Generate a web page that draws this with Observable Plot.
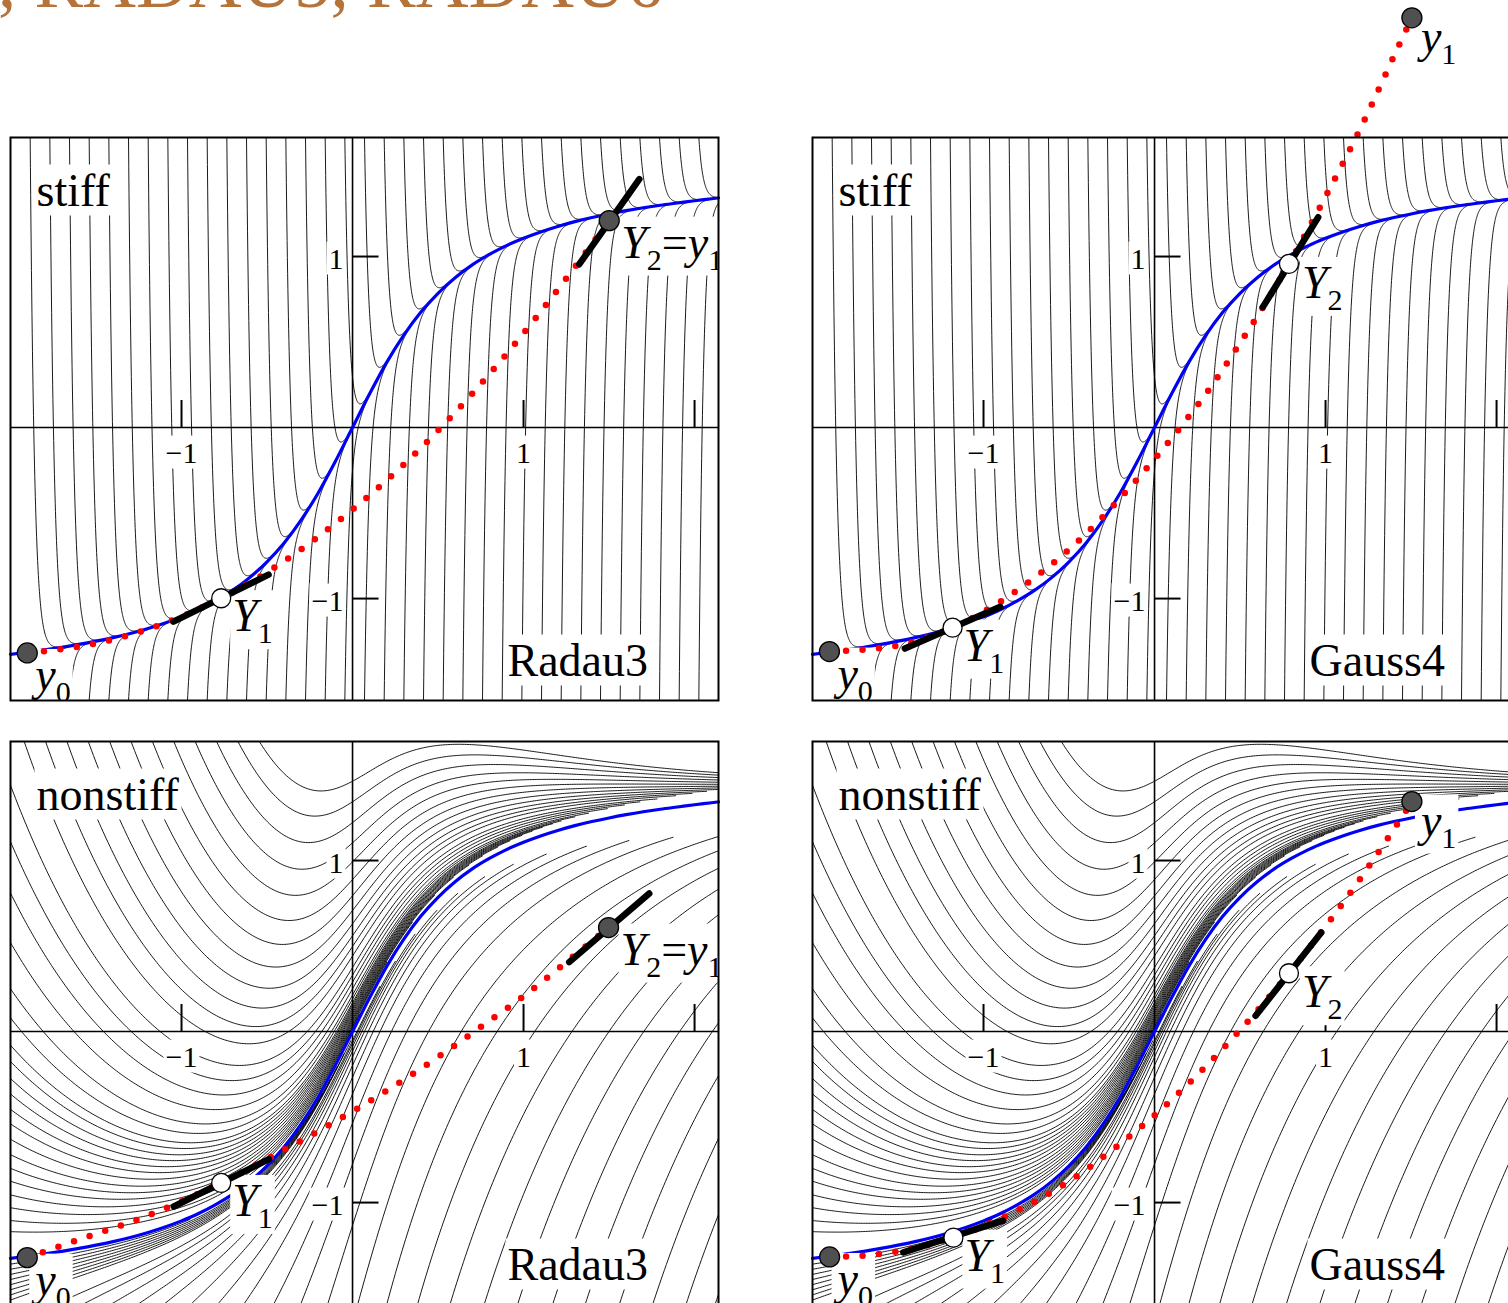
<!DOCTYPE html>
<html>
<head>
<meta charset="utf-8">
<script src="https://cdn.jsdelivr.net/npm/d3@7"></script>
<script src="https://cdn.jsdelivr.net/npm/@observablehq/plot@0.6"></script>
<style>
  html, body { margin: 0; padding: 0; background: #fff; overflow: hidden; }
  #page { position: relative; width: 1508px; height: 1303px; overflow: hidden; background: #fff; }
  #title { position: absolute; left: -2px; top: -54px; font-family: "Liberation Serif", serif; font-size: 73px;
           color: #b5733a; white-space: nowrap; line-height: 1; }
</style>
</head>
<body>
<div id="page"><div id="title">, RADAU5, RADAU6</div></div>
<script>
// ---------------- data ----------------
const xDomain = [-2, 2.14];
const yDomain = [-1.596, 1.696];
const xTickValues = [-1, 1, 2];
const xTickLabelValues = [-1, 1];
const xTickLabels = ["−1", "1"];
const yTickValues = [-1, 1];
const yTickLabels = ["−1", "1"];

// stiffness constants of the two problems (estimated from the field lines)
const lambdaStiff = 40;
const lambdaNonstiff = 1;

// exact smooth solution (blue)
const blueX = [-2.0,-1.9,-1.8,-1.7,-1.6,-1.5,-1.4,-1.3,-1.2,-1.1,-1.0,-0.9,-0.8,-0.7,-0.6,-0.5,-0.4,-0.3,-0.2,-0.1,0,
               0.1,0.2,0.3,0.4,0.5,0.6,0.7,0.8,0.9,1.0,1.1,1.2,1.3,1.4,1.5,1.6,1.7,1.8,1.9,2.0,2.1,2.14];
const blueY = [-1.326,-1.313,-1.300,-1.285,-1.268,-1.249,-1.228,-1.204,-1.176,-1.144,-1.107,-1.064,-1.012,-0.951,-0.876,-0.785,-0.675,-0.540,-0.381,-0.197,0,
               0.197,0.381,0.540,0.675,0.785,0.876,0.951,1.012,1.064,1.107,1.144,1.176,1.204,1.228,1.249,1.268,1.285,1.300,1.313,1.326,1.338,1.343];

// seeds of the drawn solution curves (where they enter the frame)
const stiffSeedX = [-1.885,-1.77,-1.655,-1.54,-1.425,-1.31,-1.195,-1.08,-0.965,-0.85,-0.735,-0.62,-0.505,-0.39,-0.275,-0.16,-0.045,
                    0.07,0.185,0.30,0.415,0.53,0.645,0.76,0.875,0.99,1.105,1.22,1.335,1.45,1.565,1.68,1.795,1.91,2.025];
const nonstiffTopSeedX = [-1.92,-1.795,-1.67,-1.545,-1.42,-1.295,-1.17,-1.045,-0.92,-0.795,-0.67,-0.545];
const nonstiffLeftSeedY = [1.44,1.11,0.81,0.52,0.25,0.08,-0.08,-0.175,-0.275,-0.365,-0.455,-0.54,-0.63,-0.72,-0.80,-0.875,-0.955,-1.03,-1.105,-1.17,
                           -1.36,-1.39,-1.42,-1.45,-1.48,-1.51,-1.54,-1.57];
const nonstiffBottomSeedX = [-1.74,-1.58,-1.415,-1.257,-1.105,-0.947,-0.79,-0.637,-0.462,-0.304,-0.146,
                             0.03,0.2,0.38,0.57,0.77,0.965,1.17,1.36,1.56,1.755,1.95,2.12];

// Radau3, stiff
const radauStiffRedX = [-1.90,-1.50,-1.14,-0.768,-0.44,-0.05,0.30,0.515,0.912,1.275,1.501];
const radauStiffRedY = [-1.318,-1.262,-1.160,-0.998,-0.808,-0.520,-0.216,-0.002,0.444,0.905,1.210];
const radauStiffNodeX = [-1.902,-0.768,1.501];
const radauStiffNodeY = [-1.318,-0.998,1.210];
const radauStiffSegX1 = [-1.047,1.326], radauStiffSegY1 = [-1.135,0.955];
const radauStiffSegX2 = [-0.491,1.677], radauStiffSegY2 = [-0.860,1.452];

// Gauss4, stiff
const gaussStiffRedX = [-1.90,-1.50,-1.181,-0.80,-0.40,-0.10,0.158,0.327,0.491,0.596,0.786,0.982,1.204,1.45,1.505];
const gaussStiffRedY = [-1.310,-1.274,-1.170,-0.950,-0.620,-0.300,0.010,0.234,0.480,0.643,0.957,1.316,1.749,2.280,2.396];
const gaussStiffNodeX = [-1.901,-1.181,0.786,1.505];
const gaussStiffNodeY = [-1.310,-1.170,0.957,2.396];
const gaussStiffSegX1 = [-1.460,0.633], gaussStiffSegY1 = [-1.292,0.704];
const gaussStiffSegX2 = [-0.902,0.957], gaussStiffSegY2 = [-1.048,1.230];

// Radau3, nonstiff
const radauNonRedX = [-1.902,-1.532,-1.257,-0.768,-0.462,-0.205,0.047,0.292,0.538,0.778,1.012,1.24,1.497];
const radauNonRedY = [-1.322,-1.193,-1.099,-0.885,-0.725,-0.585,-0.439,-0.287,-0.123,0.047,0.216,0.398,0.608];
const radauNonNodeX = [-1.902,-0.768,1.497];
const radauNonNodeY = [-1.322,-0.885,0.608];
const radauNonSegX1 = [-1.045,1.267], radauNonSegY1 = [-1.023,0.406];
const radauNonSegX2 = [-0.489,1.735], radauNonSegY2 = [-0.746,0.807];

// Gauss4, nonstiff
const gaussNonRedX = [-1.90,-1.70,-1.509,-1.176,-0.865,-0.52,-0.21,0.018,0.298,0.503,0.786,1.0,1.224,1.444,1.505];
const gaussNonRedY = [-1.318,-1.31,-1.287,-1.205,-1.076,-0.889,-0.663,-0.474,-0.205,0.012,0.341,0.614,0.924,1.251,1.345];
const gaussNonNodeX = [-1.900,-1.176,0.786,1.505];
const gaussNonNodeY = [-1.318,-1.205,0.341,1.345];
const gaussNonSegX1 = [-1.469,0.591], gaussNonSegY1 = [-1.291,0.092];
const gaussNonSegX2 = [-0.886,0.975], gaussNonSegY2 = [-1.105,0.579];

const radauNodeLabels = ["*y*_0", "*Y*_1", "*Y*_2=*y*_1"];
const radauNodeDark = [true, false, true];
const gaussNodeLabels = ["*y*_0", "*Y*_1", "*Y*_2", "*y*_1"];
const gaussNodeDark = [true, false, false, true];

// ---------------- drawing ----------------
const SVGNS = "http://www.w3.org/2000/svg";
const SERIF = "Liberation Serif, Times New Roman, serif";
const M = 150;
const page = document.getElementById("page");
const labelOffset = {"*y*_0": [8, 37], "*Y*_1": [11, 33], "*Y*_2=*y*_1": [12, 37], "*Y*_2": [13, 34], "*y*_1": [9, 34]};

// direction field of the Prothero-Robinson type problem y' = -lambda (y - g(x)) + g'(x)
const g = x => Math.atan(2 * x);
function fieldLines(kind) {
  const pts = [];
  let id = 0;
  const add = (s, ys, lambda, step, gap) => {
    const c = ys - g(s);
    for (let k = 0; ; k++) {
      let x = s + k * step, last = false;
      if (x >= xDomain[1]) { x = xDomain[1]; last = true; }
      const off = c * Math.exp(-lambda * (x - s));
      pts.push({x, y: g(x) + off, id});
      if (last || Math.abs(off) < gap(x, off)) break;
    }
    id++;
  };
  if (kind === "stiff") {
    stiffSeedX.forEach(s => add(s, yDomain[1], lambdaStiff, 0.0015, () => 0.003));
    stiffSeedX.forEach(s => add(s, yDomain[0], lambdaStiff, 0.0015, () => 0.003));
  } else {
    const gap = (x, off) => 0.012 + (off > 0 ? 0.025 : 0.075) * Math.max(0, x + 0.3);
    nonstiffTopSeedX.forEach(s => add(s, yDomain[1], lambdaNonstiff, 0.01, gap));
    nonstiffLeftSeedY.forEach(y => add(xDomain[0], y, lambdaNonstiff, 0.01, gap));
    nonstiffBottomSeedX.forEach(s => add(s, yDomain[0], lambdaNonstiff, 0.01, gap));
  }
  return pts;
}

function panel(p) {
  const blueIdx = d3.range(blueX.length);
  const redIdx = d3.range(p.redX.length);
  const segIdx = d3.range(p.segX1.length);
  const nodeIdx = d3.range(p.nodeX.length);
  const darkIdx = nodeIdx.filter(i => p.nodeDark[i]);
  const whiteIdx = nodeIdx.filter(i => !p.nodeDark[i]);
  const textBase = {fontFamily: SERIF, fill: "black", lineAnchor: "bottom"};

  const nodeLabels = nodeIdx.map(i => {
    const [dx, dy] = labelOffset[p.nodeLabels[i]];
    return Plot.text([i], {x: j => p.nodeX[j], y: j => p.nodeY[j], text: j => p.nodeLabels[j],
      dx, dy, textAnchor: "start", fontSize: 46, clip: p.clipLabels, ...textBase});
  });

  const chart = Plot.plot({
    width: 708 + 2 * M, height: 563 + 2 * M,
    marginLeft: M, marginRight: M, marginTop: M, marginBottom: M,
    x: {domain: xDomain, axis: null},
    y: {domain: yDomain, axis: null},
    style: {background: "transparent", overflow: "visible", maxWidth: "none", position: "absolute",
            left: (p.left - M) + "px", top: (p.top - M) + "px"},
    marks: [
      Plot.line(fieldLines(p.kind), {x: "x", y: "y", z: "id", stroke: "black", strokeWidth: 0.9, clip: true}),
      Plot.ruleY([0], {stroke: "black", strokeWidth: 1.6}),
      Plot.ruleX([0], {stroke: "black", strokeWidth: 1.6}),
      Plot.ruleX(xTickValues, {x: d => d, y1: () => 0, y2: () => 0.158, stroke: "black", strokeWidth: 2}),
      Plot.ruleY(yTickValues, {y: d => d, x1: () => 0, x2: () => 0.155, stroke: "black", strokeWidth: 2}),
      Plot.line(blueIdx, {x: i => blueX[i], y: i => blueY[i], stroke: "rgb(0,0,245)", strokeWidth: 3.2, curve: "monotone-x"}),
      () => { const gEl = document.createElementNS(SVGNS, "g"); gEl.setAttribute("class", "label-boxes"); return gEl; },
      Plot.line(redIdx, {x: i => p.redX[i], y: i => p.redY[i], stroke: "#ff0000", strokeWidth: 6.5,
        strokeDasharray: "0,16.5", strokeLinecap: "round", curve: "monotone-x"}),
      Plot.link(segIdx, {x1: i => p.segX1[i], y1: i => p.segY1[i], x2: i => p.segX2[i], y2: i => p.segY2[i],
        stroke: "black", strokeWidth: 6.5, strokeLinecap: "round"}),
      Plot.dot(darkIdx, {x: i => p.nodeX[i], y: i => p.nodeY[i], r: 10, fill: "#505050", stroke: "black", strokeWidth: 1.3}),
      Plot.dot(whiteIdx, {x: i => p.nodeX[i], y: i => p.nodeY[i], r: 9.5, fill: "white", stroke: "black", strokeWidth: 1.3}),
      Plot.text([p.regime], {frameAnchor: "top-left", text: d => d, dx: 26, dy: 68, textAnchor: "start", fontSize: 46, ...textBase}),
      Plot.text([p.method], {frameAnchor: "bottom-left", text: d => d, dx: 497, dy: -25, textAnchor: "start", fontSize: 46, ...textBase}),
      Plot.text(xTickLabelValues, {x: d => d, y: () => 0, text: (d, i) => xTickLabels[i], dy: 35, textAnchor: "middle", fontSize: 30, ...textBase}),
      Plot.text(yTickValues, {x: () => 0, y: d => d, text: (d, i) => yTickLabels[i], dx: -9, dy: 12, textAnchor: "end", fontSize: 30, ...textBase}),
      ...nodeLabels,
      Plot.frame({stroke: "black", strokeWidth: 2})
    ]
  });
  page.appendChild(chart);
  finish(chart);
}

// italic letters and subscripts inside labels, plus white boxes under every label
function rebuild(t) {
  const s = t.textContent;
  if (!/[*_]/.test(s)) return;
  t.textContent = "";
  const re = /\*([^*]+)\*|_(\d)|([^*_]+)/g;
  let m, shifted = false;
  while ((m = re.exec(s))) {
    const ts = document.createElementNS(SVGNS, "tspan");
    if (m[2]) {
      ts.textContent = m[2];
      ts.setAttribute("font-size", "30");
      ts.setAttribute("dy", "12");
      shifted = true;
    } else {
      ts.textContent = m[1] || m[3];
      if (m[1]) ts.setAttribute("font-style", "italic");
      if (shifted) { ts.setAttribute("dy", "-12"); shifted = false; }
    }
    t.appendChild(ts);
  }
}
function finish(svg) {
  const boxes = svg.querySelector("g.label-boxes");
  const rootInv = svg.getScreenCTM().inverse();
  svg.querySelectorAll("text").forEach(t => {
    rebuild(t);
    const b = t.getBBox();
    const mm = rootInv.multiply(t.getScreenCTM());
    const r = document.createElementNS(SVGNS, "rect");
    r.setAttribute("x", b.x - 2);
    r.setAttribute("y", b.y);
    r.setAttribute("width", b.width + 4);
    r.setAttribute("height", b.height);
    r.setAttribute("fill", "white");
    r.setAttribute("transform", `matrix(${mm.a},${mm.b},${mm.c},${mm.d},${mm.e},${mm.f})`);
    boxes.appendChild(r);
  });
}

panel({kind: "stiff", regime: "stiff", method: "Radau3", left: 10, top: 137, clipLabels: true,
  redX: radauStiffRedX, redY: radauStiffRedY, nodeX: radauStiffNodeX, nodeY: radauStiffNodeY,
  segX1: radauStiffSegX1, segY1: radauStiffSegY1, segX2: radauStiffSegX2, segY2: radauStiffSegY2,
  nodeLabels: radauNodeLabels, nodeDark: radauNodeDark});
panel({kind: "stiff", regime: "stiff", method: "Gauss4", left: 812, top: 137, clipLabels: false,
  redX: gaussStiffRedX, redY: gaussStiffRedY, nodeX: gaussStiffNodeX, nodeY: gaussStiffNodeY,
  segX1: gaussStiffSegX1, segY1: gaussStiffSegY1, segX2: gaussStiffSegX2, segY2: gaussStiffSegY2,
  nodeLabels: gaussNodeLabels, nodeDark: gaussNodeDark});
panel({kind: "nonstiff", regime: "nonstiff", method: "Radau3", left: 10, top: 741, clipLabels: true,
  redX: radauNonRedX, redY: radauNonRedY, nodeX: radauNonNodeX, nodeY: radauNonNodeY,
  segX1: radauNonSegX1, segY1: radauNonSegY1, segX2: radauNonSegX2, segY2: radauNonSegY2,
  nodeLabels: radauNodeLabels, nodeDark: radauNodeDark});
panel({kind: "nonstiff", regime: "nonstiff", method: "Gauss4", left: 812, top: 741, clipLabels: false,
  redX: gaussNonRedX, redY: gaussNonRedY, nodeX: gaussNonNodeX, nodeY: gaussNonNodeY,
  segX1: gaussNonSegX1, segY1: gaussNonSegY1, segX2: gaussNonSegX2, segY2: gaussNonSegY2,
  nodeLabels: gaussNodeLabels, nodeDark: gaussNodeDark});
</script>
</body>
</html>
